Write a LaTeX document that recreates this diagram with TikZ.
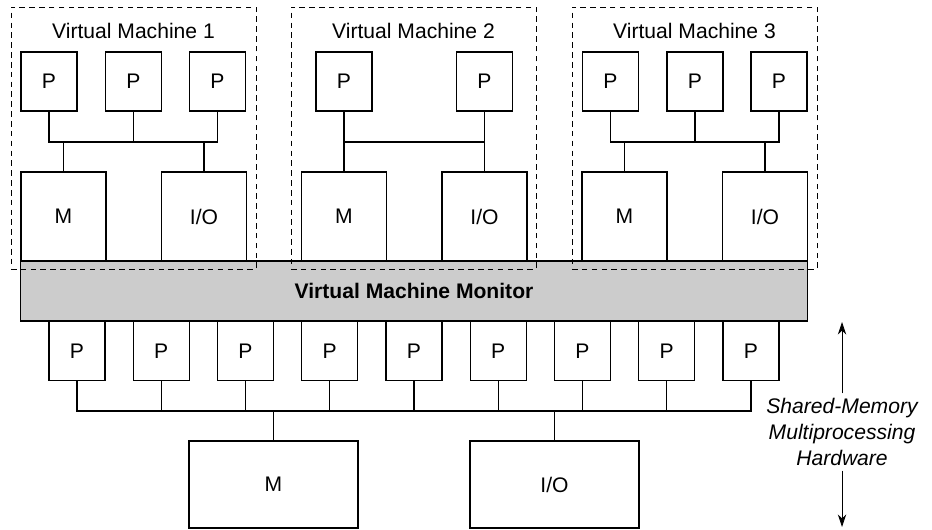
\documentclass[tikz,border=0pt]{standalone}
\usepackage{fontspec}
\setmainfont{Liberation Sans}
\usetikzlibrary{arrows.meta, positioning, calc}

\newcommand{\figfont}{\fontsize{15}{18.5}\selectfont}

\begin{document}
\begin{tikzpicture}[>={Stealth[length=9pt, width=6pt]}, x=0.025cm, y=-0.025cm, line width=0.8pt,
    every node/.style={font=\figfont},
    pbox/.style={rectangle, draw, inner sep=0pt, minimum width=1.4cm, minimum height=1.475cm},
    unit/.style={rectangle, draw, inner sep=0pt, minimum width=2.125cm, minimum height=2.225cm},
    bigunit/.style={rectangle, draw, inner sep=0pt, minimum width=4.225cm, minimum height=2.175cm},
    vmbox/.style={rectangle, draw, dash pattern=on 4pt off 3pt, line width=0.6pt, inner sep=0pt,
      minimum width=6.125cm, minimum height=6.55cm}]
  \useasboundingbox (0,0) rectangle (932,530);

  % virtual machine monitor
  \node[rectangle, draw, fill=black!20, inner sep=0pt, minimum width=19.65cm, minimum height=1.5cm,
    font=\figfont\bfseries] (vmm) at (414,291) {Virtual Machine Monitor};

  % virtual machine 1
  \node[vmbox] (vm1) at (133.5,138) {};
  \node[anchor=base] (t1) at (133.5,39) {Virtual Machine 1};
  \node[pbox] (p11) at (49,81.5) {P};
  \node[pbox] (p12) at (133.5,81.5) {P};
  \node[pbox] (p13) at (217.5,81.5) {P};
  \node[unit] (m1) at (63.5,216.5) {M};
  \node[unit] (io1) at (204,216.5) {I/O};
  \coordinate (bus1) at (0,142);
  \draw (p11.south) -- (p11.south |- bus1) -- (p13.south |- bus1) -- (p13.south);
  \draw (p12.south) -- (p12.south |- bus1);
  \draw (m1.north) -- (m1.north |- bus1);
  \draw (io1.north) -- (io1.north |- bus1);

  % virtual machine 2
  \node[vmbox] (vm2) at (413.5,138) {};
  \node[anchor=base] (t2) at (413.5,39) {Virtual Machine 2};
  \node[pbox] (p21) at (344,81.5) {P};
  \node[pbox] (p22) at (484.5,81.5) {P};
  \node[unit] (m2) at (344,216.5) {M};
  \node[unit] (io2) at (484.5,216.5) {I/O};
  \coordinate (bus2) at (0,142);
  \draw (p21.south) -- (m2.north);
  \draw (p22.south) -- (io2.north);
  \draw (p21.south |- bus2) -- (p22.south |- bus2);

  % virtual machine 3
  \node[vmbox] (vm3) at (694.5,138) {};
  \node[anchor=base] (t3) at (694.5,39) {Virtual Machine 3};
  \node[pbox] (p31) at (610.5,81.5) {P};
  \node[pbox] (p32) at (695,81.5) {P};
  \node[pbox] (p33) at (779,81.5) {P};
  \node[unit] (m3) at (624.5,216.5) {M};
  \node[unit] (io3) at (765,216.5) {I/O};
  \coordinate (bus3) at (0,142);
  \draw (p31.south) -- (p31.south |- bus3) -- (p33.south |- bus3) -- (p33.south);
  \draw (p32.south) -- (p32.south |- bus3);
  \draw (m3.north) -- (m3.north |- bus3);
  \draw (io3.north) -- (io3.north |- bus3);

  % shared-memory hardware
  \foreach \i in {1,...,9}
    \node[pbox] (hp\i) at ({77+84.25*(\i-1)},351) {P};
  \node[bigunit] (hm) at (273.5,484.5) {M};
  \node[bigunit] (hio) at (554.5,484.5) {I/O};
  \coordinate (hbus) at (0,411);
  \draw (hp1.south) -- (hp1.south |- hbus) -- (hp9.south |- hbus) -- (hp9.south);
  \foreach \i in {2,...,8}
    \draw (hp\i.south) -- (hp\i.south |- hbus);
  \draw (hm.north) -- (hm.north |- hbus);
  \draw (hio.north) -- (hio.north |- hbus);

  \node[font=\figfont\itshape, align=center, inner sep=3pt] (hw) at (842,432) {Shared-Memory\\Multiprocessing\\Hardware};
  \coordinate (hwtop) at (842,322);
  \coordinate (hwbot) at (842,527);
  \draw[->, line width=0.6pt] (hw.north) -- (hwtop);
  \draw[->, line width=0.6pt] (hw.south) -- (hwbot);
\end{tikzpicture}
\end{document}
